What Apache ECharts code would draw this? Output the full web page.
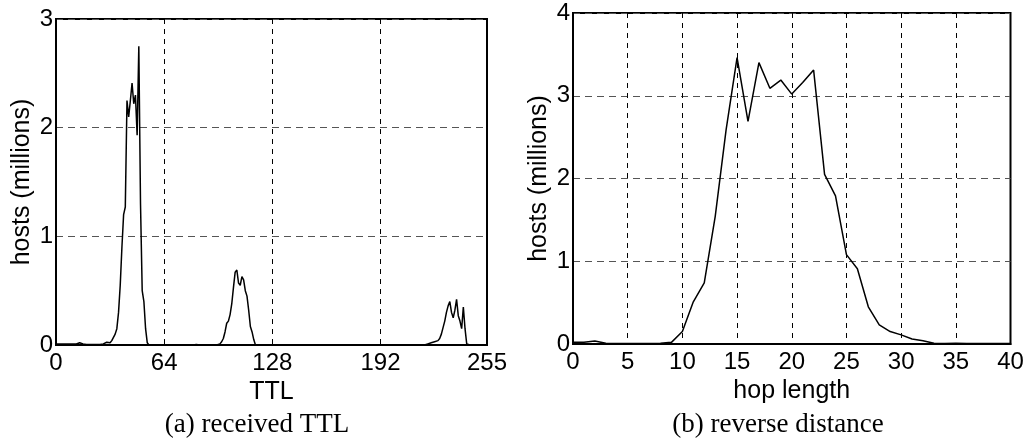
<!DOCTYPE html>
<html>
<head>
<meta charset="utf-8">
<script src="https://cdn.jsdelivr.net/npm/echarts@6/dist/echarts.min.js"></script>
<style>
html,body{margin:0;padding:0;background:#fff;}
#chart{width:1029px;height:447px;}
</style>
</head>
<body>
<div id="chart"></div>
<script>
// (a) received TTL: hosts (millions) for TTL 0..255
const ttlHosts = [
  0.01,0.01,0.01,0.01,0.01,0.01,0.01,0.01,0.01,0.01,0.01,0.01,0.01,0.015,0.02,0.015,
  0.01,0.005,0.005,0.005,0.005,0.005,0.005,0.005,0.005,0.005,0.005,0.005,0.01,0.02,0.025,0.015,
  0.02,0.04,0.07,0.1,0.15,0.3,0.55,0.9,1.2,1.27,2.25,2.1,2.25,2.41,2.22,2.3,
  1.93,2.75,1.3,0.5,0.4,0.15,0.02,0,0,0,0,0,0,0,0,0,
  0,0,0,0,0,0,0,0,0,0,0,0,0,0,0,0,
  0,0,0.005,0.005,0,0,0,0,0,0,0,0,0,0,0,0,
  0,0.01,0.03,0.06,0.12,0.2,0.22,0.28,0.38,0.53,0.67,0.69,0.57,0.55,0.63,0.6,
  0.5,0.45,0.32,0.17,0.12,0.05,0,0,0,0,0,0,0,0,0,0,
  0,0,0,0,0,0,0,0,0,0,0,0,0,0,0,0,
  0,0,0,0,0,0,0,0,0,0,0,0,0,0,0,0,
  0,0,0,0,0,0,0,0,0,0,0,0,0,0,0,0,
  0,0,0,0,0,0,0,0,0,0,0,0,0,0,0,0,
  0,0,0,0,0,0,0,0,0,0,0,0,0,0,0,0,
  0,0,0,0,0,0,0,0,0,0,0,0.01,0.01,0.02,0.02,0.02,
  0.03,0.03,0.04,0.06,0.1,0.16,0.22,0.3,0.36,0.4,0.3,0.25,0.32,0.42,0.27,0.22,
  0.15,0.35,0.15,0.01,0,0,0,0,0,0,0,0,0,0,0,0
];
// (b) reverse distance: hosts (millions) for hop length 0..40
const hopHosts = [
  0.02,0.02,0.035,0.01,0.005,0.005,0.005,0.005,0.01,0.02,
  0.15,0.51,0.74,1.54,2.59,3.46,2.69,3.40,3.09,3.19,
  3.02,3.16,3.31,2.05,1.79,1.08,0.91,0.45,0.23,0.15,
  0.11,0.06,0.04,0.01,0.005,0.01,0.005,0.005,0.005,0.005,0.005
];
const yAxisName = 'hosts (millions)';
const xNames = ['TTL', 'hop length'];
const captions = ['(a) received TTL', '(b) reverse distance'];

const ttlData = ttlHosts.map((v, i) => [i, v]);
const hopData = hopHosts.map((v, i) => [i, v]);

const SANS = 'Liberation Sans, Arial, sans-serif';
const SERIF = 'Liberation Serif, Times New Roman, serif';

const vDash = {show: true, lineStyle: {color: '#000', width: 1, type: [5, 5]}};
const hDash = {show: true, lineStyle: {color: '#555', width: 1, type: [7, 5]}};
const axisLine = {show: true, lineStyle: {color: '#000', width: 2}};
const lbl = {color: '#000', fontSize: 24, fontFamily: SANS};
const nameStyle = {color: '#000', fontSize: 25, fontFamily: SANS};

const chart = echarts.init(document.getElementById('chart'), null, {renderer: 'canvas'});
chart.setOption({
  animation: false,
  backgroundColor: '#fff',
  grid: [
    {left: 56, top: 19, width: 431, height: 326, show: true, borderColor: '#000', borderWidth: 2, containLabel: false},
    {left: 573, top: 13, width: 437.5, height: 331, show: true, borderColor: '#000', borderWidth: 2, containLabel: false}
  ],
  xAxis: [
    {gridIndex: 0, type: 'value', min: 0, max: 255, interval: 64,
     axisLine, axisTick: {show: false}, splitLine: vDash,
     axisLabel: Object.assign({margin: 6, showMaxLabel: true}, lbl),
     name: xNames[0], nameLocation: 'middle', nameGap: 29, nameTextStyle: nameStyle},
    {gridIndex: 1, type: 'value', min: 0, max: 40, interval: 5,
     axisLine, axisTick: {show: false}, splitLine: vDash,
     axisLabel: Object.assign({margin: 6}, lbl),
     name: xNames[1], nameLocation: 'middle', nameGap: 29, nameTextStyle: nameStyle}
  ],
  yAxis: [
    {gridIndex: 0, type: 'value', min: 0, max: 3, interval: 1,
     axisLine, axisTick: {show: false}, splitLine: hDash,
     axisLabel: Object.assign({margin: 3}, lbl),
     name: yAxisName, nameLocation: 'middle', nameGap: 21, nameTextStyle: nameStyle},
    {gridIndex: 1, type: 'value', min: 0, max: 4, interval: 1,
     axisLine, axisTick: {show: false}, splitLine: hDash,
     axisLabel: Object.assign({margin: 3}, lbl),
     name: yAxisName, nameLocation: 'middle', nameGap: 21, nameTextStyle: nameStyle}
  ],
  series: [
    {type: 'line', xAxisIndex: 0, yAxisIndex: 0, data: ttlData, showSymbol: false,
     lineStyle: {color: '#000', width: 1.5}, z: 5},
    {type: 'line', xAxisIndex: 1, yAxisIndex: 1, data: hopData, showSymbol: false,
     lineStyle: {color: '#000', width: 1.5}, z: 5}
  ],
  graphic: [
    {type: 'text', x: 257, y: 425, style: {text: captions[0], fontSize: 27, fontFamily: SERIF, fill: '#000', textAlign: 'center', textVerticalAlign: 'middle'}},
    {type: 'text', x: 778, y: 425, style: {text: captions[1], fontSize: 27, fontFamily: SERIF, fill: '#000', textAlign: 'center', textVerticalAlign: 'middle'}}
  ]
});
</script>
</body>
</html>
